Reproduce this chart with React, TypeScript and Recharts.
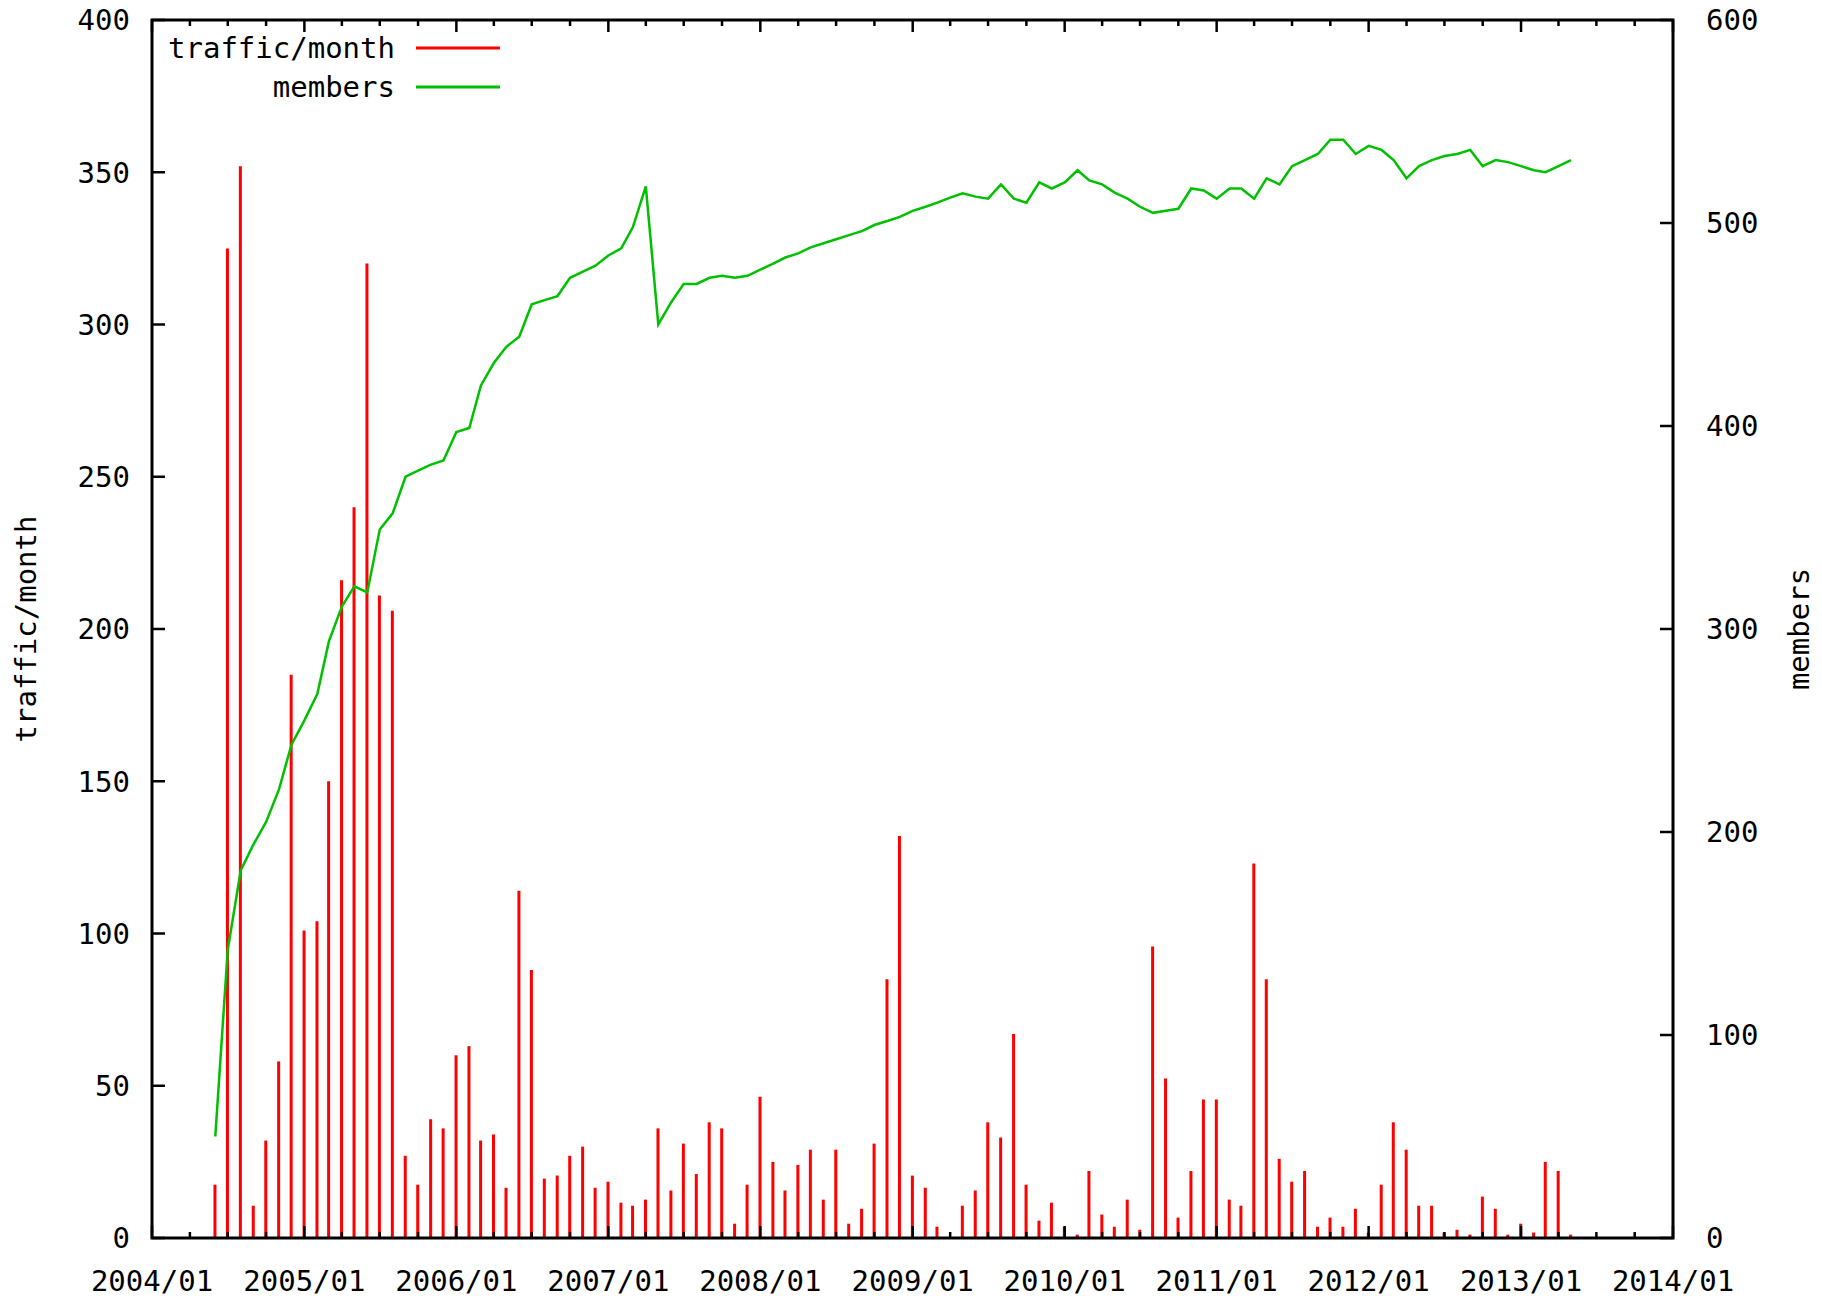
import React from 'react';
import { ComposedChart, Bar, Line, XAxis, YAxis } from 'recharts';

// monthly series, first value is 2004/06
const FIRST_YEAR = 2004;
const FIRST_MONTH = 6;

const TRAFFIC = [
  17.5, 325, 352, 10.6, 32, 58, 185, 101, 104, 150,
  216, 240, 320, 211, 206, 27, 17.5, 39, 36, 60,
  63, 32, 34, 16.5, 114, 88, 19.5, 20.5, 27, 30,
  16.5, 18.5, 11.6, 10.6, 12.6, 36, 15.6, 31, 21, 38,
  36, 4.7, 17.5, 46.4, 25, 15.6, 24, 29, 12.6, 29,
  4.7, 9.6, 31, 85, 132, 20.5, 16.5, 3.7, 0, 10.6,
  15.6, 38, 33, 67, 17.5, 5.7, 11.6, 3.7, 1.1, 22,
  7.7, 3.7, 12.6, 2.7, 95.7, 52.4, 6.7, 22, 45.5, 45.5,
  12.6, 10.6, 123, 85, 26, 18.5, 22, 3.7, 6.7, 3.7,
  9.6, 1.8, 17.5, 38, 29, 10.6, 10.6, 1.8, 2.7, 1.1,
  13.6, 9.6, 1.1, 4.7, 1.8, 25, 22, 1.1,
];

const MEMBERS = [
  50, 142, 181, 194, 205, 221, 243, 255, 268, 294,
  311, 321, 318, 349, 357, 375, 378, 381, 383, 397,
  399, 420, 431, 439, 444, 460, 462, 464, 473, 476,
  479, 484, 487.5, 498, 518, 450, 461, 470, 470, 473,
  474, 473, 474, 477, 480, 483, 485, 488, 490, 492,
  494, 496, 499, 501, 503, 506, 508, 510, 512.5, 514.6,
  513, 512, 519, 512, 510, 520, 517, 520, 526, 521,
  519, 515, 512, 508, 505, 506, 507, 517, 516, 512,
  517, 517, 512, 522, 519, 528, 531, 534, 541, 541,
  534, 538, 536, 531, 522, 528, 531, 533, 534, 536,
  528, 531, 530, 528, 526, 525, 528, 531,
];

const YEAR_LABELS = [
  '2004/01', '2005/01', '2006/01', '2007/01', '2008/01', '2009/01',
  '2010/01', '2011/01', '2012/01', '2013/01', '2014/01',
];
const TRAFFIC_TICKS = [0, 50, 100, 150, 200, 250, 300, 350, 400];
const MEMBER_TICKS = [0, 100, 200, 300, 400, 500, 600];

const SERIES = [
  { key: 'traffic', name: 'traffic/month', color: '#ff0000' },
  { key: 'members', name: 'members', color: '#00c000' },
];

const W = 1822;
const H = 1302;
const PLOT_LEFT = 152;
const PLOT_RIGHT = 1673;
const PLOT_TOP = 20;
const PLOT_BOTTOM = 1238;
const FONT = '"DejaVu Sans Mono", "Liberation Mono", monospace';
const FONT_SIZE = 29;

const data = TRAFFIC.map((traffic, i) => {
  const idx = FIRST_MONTH - 1 + i;
  return {
    t: Date.UTC(FIRST_YEAR + Math.floor(idx / 12), idx % 12, 1),
    traffic,
    members: MEMBERS[i],
  };
});

const yearOf = (label: string) => Number(label.slice(0, 4));
const X_DOMAIN = [Date.UTC(yearOf(YEAR_LABELS[0]), 0, 1), Date.UTC(yearOf(YEAR_LABELS[YEAR_LABELS.length - 1]), 0, 1)];
const LABEL_AT = new Map(YEAR_LABELS.map((l) => [Date.UTC(yearOf(l), 0, 1), l]));
const QUARTER_TICKS = YEAR_LABELS.flatMap((l, i) =>
  i === YEAR_LABELS.length - 1
    ? [Date.UTC(yearOf(l), 0, 1)]
    : [0, 3, 6, 9].map((m) => Date.UTC(yearOf(l), m, 1))
);

const BottomTick = (props: any) => {
  const { x, payload } = props;
  const label = LABEL_AT.get(payload.value);
  const len = label ? 12 : 6;
  return (
    <g>
      <line x1={x} x2={x} y1={PLOT_BOTTOM} y2={PLOT_BOTTOM - len} stroke="#000" strokeWidth={2.5} />
      <line x1={x} x2={x} y1={PLOT_TOP} y2={PLOT_TOP + len} stroke="#000" strokeWidth={2.5} />
      {label && (
        <text x={x} y={PLOT_BOTTOM + 53} textAnchor="middle" fontFamily={FONT} fontSize={FONT_SIZE} fill="#000">
          {label}
        </text>
      )}
    </g>
  );
};

const LeftTick = (props: any) => {
  const { y, payload } = props;
  return (
    <g>
      <line x1={PLOT_LEFT} x2={PLOT_LEFT + 13} y1={y} y2={y} stroke="#000" strokeWidth={2.5} />
      <text x={PLOT_LEFT - 22} y={y} dy="0.36em" textAnchor="end" fontFamily={FONT} fontSize={FONT_SIZE} fill="#000">
        {payload.value}
      </text>
    </g>
  );
};

const RightTick = (props: any) => {
  const { y, payload } = props;
  return (
    <g>
      <line x1={PLOT_RIGHT - 13} x2={PLOT_RIGHT} y1={y} y2={y} stroke="#000" strokeWidth={2.5} />
      <text x={PLOT_RIGHT + 33} y={y} dy="0.36em" textAnchor="start" fontFamily={FONT} fontSize={FONT_SIZE} fill="#000">
        {payload.value}
      </text>
    </g>
  );
};

export default function App() {
  return (
    <div style={{ position: 'absolute', left: 0, top: 0, width: W, height: H, background: '#fff' }}>
      <ComposedChart
        width={W}
        height={H}
        data={data}
        margin={{ top: PLOT_TOP, right: 0, bottom: 0, left: 0 }}
      >
        <XAxis
          dataKey="t"
          type="number"
          domain={X_DOMAIN}
          ticks={QUARTER_TICKS}
          interval={0}
          tick={BottomTick}
          tickLine={false}
          axisLine={false}
          height={H - PLOT_BOTTOM}
          padding={{ left: 0, right: 0 }}
          allowDataOverflow
        />
        <YAxis
          yAxisId="traffic"
          domain={[0, 400]}
          ticks={TRAFFIC_TICKS}
          interval={0}
          tick={LeftTick}
          tickLine={false}
          axisLine={false}
          width={PLOT_LEFT}
        />
        <YAxis
          yAxisId="members"
          orientation="right"
          domain={[0, 600]}
          ticks={MEMBER_TICKS}
          interval={0}
          tick={RightTick}
          tickLine={false}
          axisLine={false}
          width={W - PLOT_RIGHT}
        />
        <Bar
          yAxisId="traffic"
          dataKey={SERIES[0].key}
          name={SERIES[0].name}
          fill={SERIES[0].color}
          barSize={3}
          isAnimationActive={false}
        />
        <Line
          yAxisId="members"
          dataKey={SERIES[1].key}
          name={SERIES[1].name}
          type="linear"
          stroke={SERIES[1].color}
          strokeWidth={2.5}
          dot={false}
          isAnimationActive={false}
        />
      </ComposedChart>
      <svg
        width={W}
        height={H}
        style={{ position: 'absolute', left: 0, top: 0, pointerEvents: 'none' }}
      >
        <rect
          x={PLOT_LEFT}
          y={PLOT_TOP}
          width={PLOT_RIGHT - PLOT_LEFT}
          height={PLOT_BOTTOM - PLOT_TOP}
          fill="none"
          stroke="#000"
          strokeWidth={3}
        />
        {SERIES.map((s, i) => (
          <g key={s.key}>
            <text
              x={395}
              y={48 + i * 39}
              dy="0.36em"
              textAnchor="end"
              fontFamily={FONT}
              fontSize={FONT_SIZE}
              fill="#000"
            >
              {s.name}
            </text>
            <line x1={416} x2={500} y1={48 + i * 39} y2={48 + i * 39} stroke={s.color} strokeWidth={3} />
          </g>
        ))}
        <text
          transform={`translate(26, ${(PLOT_TOP + PLOT_BOTTOM) / 2}) rotate(-90)`}
          textAnchor="middle"
          dominantBaseline="central"
          fontFamily={FONT}
          fontSize={FONT_SIZE}
          fill="#000"
        >
          traffic/month
        </text>
        <text
          transform={`translate(1799, ${(PLOT_TOP + PLOT_BOTTOM) / 2}) rotate(-90)`}
          textAnchor="middle"
          dominantBaseline="central"
          fontFamily={FONT}
          fontSize={FONT_SIZE}
          fill="#000"
        >
          members
        </text>
      </svg>
    </div>
  );
}
